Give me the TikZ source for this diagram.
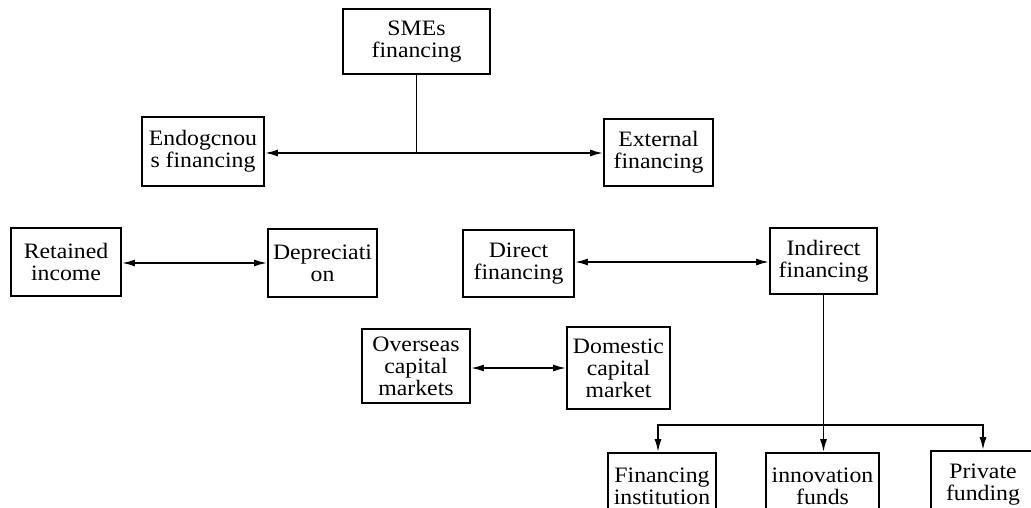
\documentclass[tikz,border=0pt]{standalone}
\usepackage{fontspec}
\setmainfont[FakeStretch=1.08]{Liberation Serif}
\usetikzlibrary{arrows.meta}
\tikzset{
  >={Latex[length=13pt,width=7pt]},
  fbox/.style = {draw, line width=1.8pt, align=center, inner sep=0pt,
    font=\fontsize{22pt}{22pt}\selectfont},
  conn/.style = {draw, line width=1.8pt}
}

\begin{document}
\begin{tikzpicture}[x=1pt, y=-1pt]
  \useasboundingbox (0,0) rectangle (1031,508);
  % top level
  \node[fbox, minimum width=147pt, minimum height=65pt] (sme) at (416.5,41.5) {SMEs\\financing};
  \node[fbox, minimum width=122pt, minimum height=69pt] (endo) at (203,151.5) {Endogcnou\\s financing};
  \node[fbox, minimum width=109pt, minimum height=67pt] (ext) at (658.5,152.5) {External\\financing};
  % second level
  \node[fbox, minimum width=110pt, minimum height=68pt] (ret) at (66,262) {Retained\\income};
  \node[fbox, minimum width=109pt, minimum height=68pt] (dep) at (322.5,263) {Depreciati\\on};
  \node[fbox, minimum width=111pt, minimum height=67pt] (dir) at (518.5,263.5) {Direct\\financing};
  \node[fbox, minimum width=107pt, minimum height=66pt] (ind) at (823.5,261) {Indirect\\financing};
  \node[fbox, minimum width=108pt, minimum height=74pt] (ovs) at (416,366) {Overseas\\capital\\markets};
  \node[fbox, minimum width=103pt, minimum height=82pt] (dom) at (618.5,368) {Domestic\\capital\\market};
  % bottom row
  \node[fbox, minimum width=108pt, minimum height=67pt] (fin) at (662,486.5) {Financing\\institution};
  \node[fbox, minimum width=113pt, minimum height=67pt] (inn) at (822.5,486.5) {innovation\\funds};
  \node[fbox, minimum width=104pt, minimum height=67pt] (pri) at (983,484.5) {Private\\funding};
  % arrows
  \coordinate (top) at (sme.south |- 0,153);
  \draw[conn] (sme.south) -- (top);
  \draw[conn, ->] (top) -- (endo.east |- top);
  \draw[conn, ->] (top) -- (ext.west |- top);
  \draw[conn, <->] (ret.east |- 0,263) -- (dep.west |- 0,263);
  \draw[conn, <->] (dir.east |- 0,262) -- (ind.west |- 0,262);
  \draw[conn, <->] (ovs.east |- 0,368) -- (dom.west |- 0,368);
  \coordinate (low) at (ind.south |- 0,425);
  \draw[conn, ->] (ind.south) -- (inn.north -| ind.south);
  \draw[conn, ->] (low) -| ([xshift=-4pt]fin.north);
  \draw[conn, ->] (low) -| (pri.north);
\end{tikzpicture}
\end{document}
